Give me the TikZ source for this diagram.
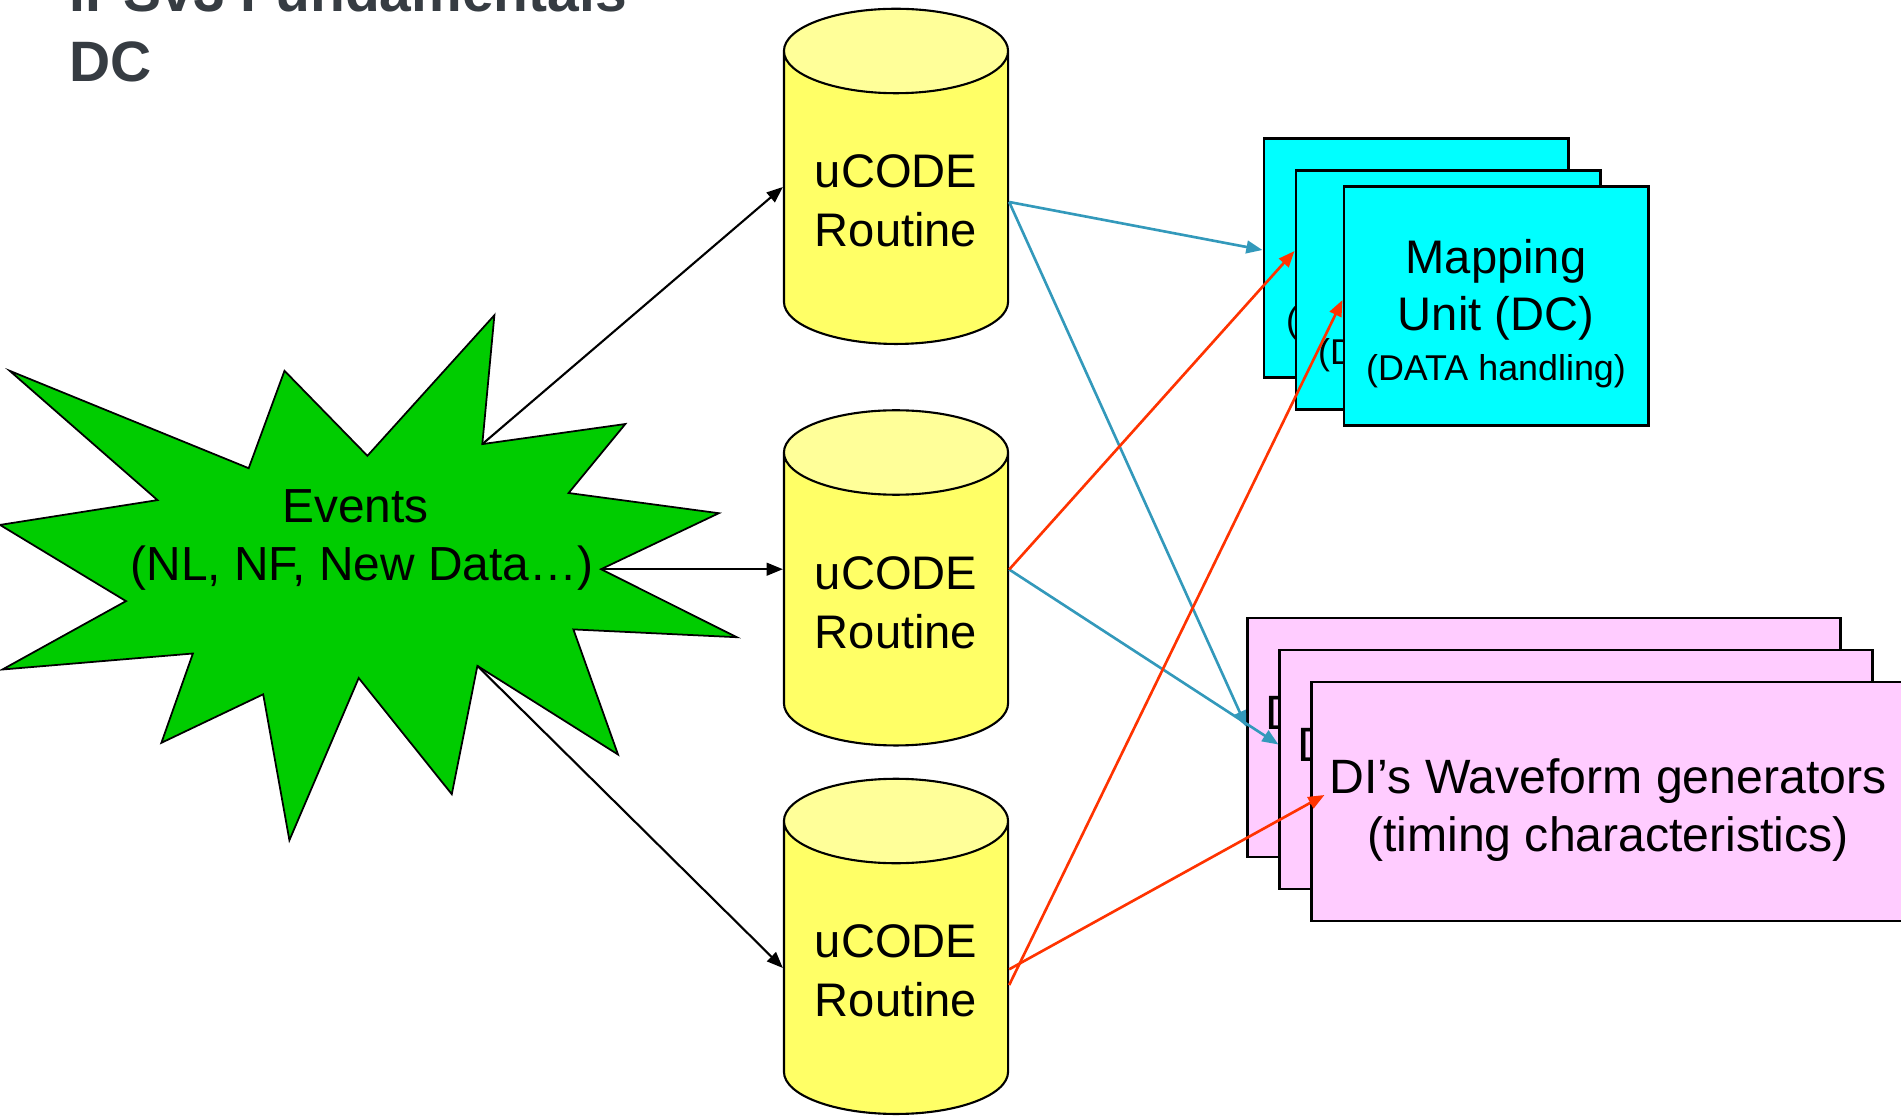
\documentclass[tikz,border=0pt]{standalone}
\usepackage{fontspec}
\setmainfont{Liberation Sans}
\usetikzlibrary{shapes.geometric,arrows.meta}

\definecolor{evgreen}{RGB}{0,204,0}
\definecolor{cylbody}{RGB}{255,255,102}
\definecolor{cyltop}{RGB}{255,255,153}
\definecolor{mapcyan}{RGB}{0,255,255}
\definecolor{wavepink}{RGB}{255,204,255}
\definecolor{linkblue}{RGB}{51,153,187}
\definecolor{linkred}{RGB}{255,51,0}
\definecolor{titlegray}{RGB}{54,60,66}

\begin{document}
\begin{tikzpicture}[x=0.01cm,y=-0.01cm,>={Triangle[length=4.6pt,width=3.6pt]},
   title/.style={inner sep=0pt,anchor=base west,text=titlegray,font=\fontsize{16.2pt}{19pt}\selectfont\bfseries},
   burst/.style={fill=evgreen,draw=black,line width=0.5pt,line join=miter},
   routine/.style={cylinder,shape border rotate=90,draw,line width=0.6pt,aspect=0.52,
      minimum width=2.24cm,minimum height=3.35cm,inner sep=0pt,
      cylinder uses custom fill,cylinder body fill=cylbody,cylinder end fill=cyltop,
      align=center,font=\fontsize{13.4pt}{16.8pt}\selectfont},
   mapbox/.style={draw,line width=0.8pt,fill=mapcyan,minimum width=3.04cm,minimum height=2.39cm,
      inner sep=0pt,align=center,font=\fontsize{13.4pt}{16.2pt}\selectfont},
   wavebox/.style={draw,line width=0.8pt,fill=wavepink,minimum width=5.92cm,minimum height=2.39cm,
      inner sep=0pt,align=center,font=\fontsize{13.7pt}{16.5pt}\selectfont},
   evarrow/.style={->,line width=0.6pt},
   bluearrow/.style={->,line width=0.75pt,draw=linkblue},
   redarrow/.style={->,line width=0.75pt,draw=linkred}]
   \useasboundingbox (0,0) rectangle (1901,1115);
   \clip (0,0) rectangle (1901,1115);

   % title, cut at the top
   \node[title] (t1) at (69,11.7) {IPSv3 Fundamentals};
   \node[title] (t2) at (69,81.7) {DC};

   % events
   \draw[burst] (9.7,370.8) -- (157.5,500.1) -- (0,524.9) -- (126,601.1) -- (2.4,669.5)
      -- (192.9,653.5) -- (161.4,742.8) -- (263.2,694.3) -- (289.4,840.2) -- (358.7,678)
      -- (451.8,794.2) -- (477.4,665.9) -- (618,754.5) -- (573.4,629.4) -- (736.8,637.2)
      -- (601,569.2) -- (718.8,513.2) -- (568.6,493) -- (625.3,424) -- (482.3,444.1)
      -- (494.4,315.2) -- (367.4,455.8) -- (284.5,370.8) -- (248.7,468.2) -- cycle;
   \node[align=center,font=\fontsize{13.6pt}{16.5pt}\selectfont] (ev) at (362,540) {Events\hspace*{.28em}\\(NL, NF, New Data…)};
   \coordinate (s1) at (482.3,444.1);
   \coordinate (s2) at (601,569.2);
   \coordinate (s3) at (477.4,665.9);

   % routines
   \node[routine] (r1) at (896,198) {\rule{0pt}{11.05pt}uCODE\\Routine};
   \node[routine] (r2) at (896,599.5) {\rule{0pt}{11.05pt}uCODE\\Routine};
   \node[routine] (r3) at (896,968) {\rule{0pt}{11.05pt}uCODE\\Routine};

   % mapping units
   \node[mapbox] (c1) at (1416,258) {\rule{0pt}{14pt}Mapping\\Unit (DC)\\[-2pt]{\fontsize{10.2pt}{12pt}\selectfont(DATA handling)}};
   \node[mapbox] (c2) at (1448,290) {\rule{0pt}{14pt}Mapping\\Unit (DC)\\[-2pt]{\fontsize{10.2pt}{12pt}\selectfont(DATA handling)}};
   \node[mapbox] (c3) at (1496,306) {\rule{0pt}{14pt}Mapping\\Unit (DC)\\[-2pt]{\fontsize{10.2pt}{12pt}\selectfont(DATA handling)}};

   % waveform generators
   \node[wavebox] (p1) at (1544,737.5) {\rule{0pt}{14.8pt}DI’s Waveform generators\\(timing characteristics)};
   \node[wavebox] (p2) at (1576,769.5) {\rule{0pt}{14.8pt}DI’s Waveform generators\\(timing characteristics)};
   \node[wavebox] (p3) at (1608,801.5) {\rule{0pt}{14.8pt}DI’s Waveform generators\\(timing characteristics)};

   \draw[evarrow] (s1) -- ([shift={(0,-11)}]r1.west);
   \draw[evarrow] (s2) -- (s2 -| r2.west);
   \draw[evarrow] (s3) -- (r3.west);

   \draw[bluearrow] ([shift={(0,4)}]r1.east) -- ([shift={(0,-8)}]c1.west);
   \draw[bluearrow] ([shift={(0,4)}]r1.east) -- ([shift={(0,-10.5)}]p1.west);
   \draw[bluearrow] ([shift={(0,-30)}]r2.east) -- ([shift={(0,-25)}]p2.west);
   \draw[redarrow] ([shift={(0,-30)}]r2.east) -- ([shift={(0,-39)}]c2.west);
   \draw[redarrow] ([shift={(0,17)}]r3.east) -- ([shift={(0,-6)}]c3.west);
   \draw[redarrow] ([shift={(0,1.3)}]r3.east) -- ([shift={(14,-6.5)}]p3.west);
\end{tikzpicture}
\end{document}
